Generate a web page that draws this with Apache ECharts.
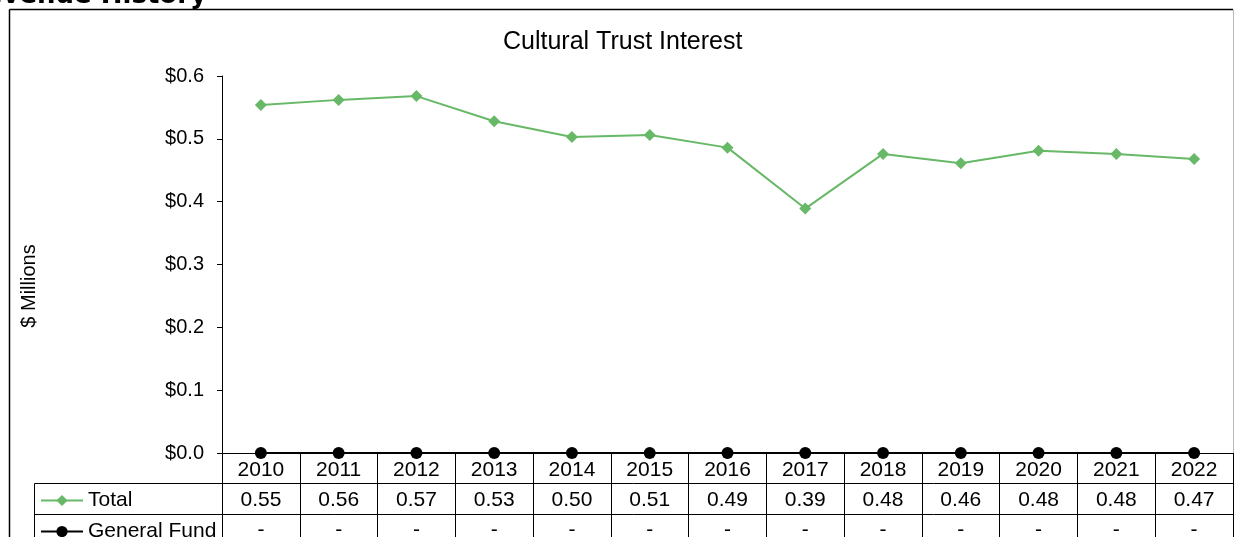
<!DOCTYPE html>
<html>
<head>
<meta charset="utf-8">
<script src="https://cdn.jsdelivr.net/npm/echarts@6/dist/echarts.min.js"></script>
<style>
html,body{margin:0;padding:0;background:#fff;}
#chart{width:1235px;height:537px;}
</style>
</head>
<body>
<div id="chart"></div>
<script>
const years = ['2010','2011','2012','2013','2014','2015','2016','2017','2018','2019','2020','2021','2022'];
const total = [0.554, 0.562, 0.568, 0.528, 0.503, 0.506, 0.486, 0.389, 0.476, 0.461, 0.481, 0.476, 0.468];
const generalFund = [0, 0, 0, 0, 0, 0, 0, 0, 0, 0, 0, 0, 0];
const yTicks = [0, 0.1, 0.2, 0.3, 0.4, 0.5, 0.6];

const FONT = '"Liberation Sans", Arial, sans-serif';
const GREEN = '#67b867';
const FS = 21;

const chart = echarts.init(document.getElementById('chart'), null, {renderer: 'canvas'});

function fmtTable(v) {
  return v === 0 ? '-' : v.toFixed(2);
}

const legendBase = {
  orient: 'horizontal',
  left: 40,
  padding: 0,
  itemWidth: 42,
  itemHeight: 14,
  textStyle: {fontFamily: FONT, fontSize: FS, color: '#000'}
};

const option = {
  animation: false,
  textStyle: {fontFamily: FONT, color: '#000'},
  title: {
    text: 'Cultural Trust Interest',
    left: 498,
    top: 25,
    textStyle: {fontFamily: FONT, fontSize: 25, fontWeight: 'normal', color: '#000'}
  },
  legend: [
    Object.assign({}, legendBase, {top: 490, data: ['Total']}),
    Object.assign({}, legendBase, {top: 521, data: ['General Fund']})
  ],
  grid: {left: 222, right: 2, top: 76, bottom: 84, containLabel: false, outerBoundsMode: 'none'},
  xAxis: [
    {
      type: 'category', data: years, position: 'bottom', boundaryGap: true,
      axisLine: {show: true, lineStyle: {color: '#000', width: 1}},
      axisTick: {show: true, length: 100, interval: 0, lineStyle: {color: '#000', width: 1}},
      axisLabel: {fontFamily: FONT, fontSize: FS, color: '#000', margin: 7, interval: 0},
      splitLine: {show: false}
    },
    {
      type: 'category', data: years, position: 'bottom', offset: 30, boundaryGap: true,
      axisLine: {show: false}, axisTick: {show: false},
      axisLabel: {fontFamily: FONT, fontSize: FS, color: '#000', margin: 7, interval: 0,
        formatter: (v, i) => fmtTable(total[i])}
    },
    {
      type: 'category', data: years, position: 'bottom', offset: 60, boundaryGap: true,
      axisLine: {show: false}, axisTick: {show: false},
      axisLabel: {fontFamily: FONT, fontSize: FS, color: '#000', margin: 7, interval: 0,
        formatter: (v, i) => fmtTable(generalFund[i])}
    }
  ],
  yAxis: {
    type: 'value', min: 0, max: 0.6, interval: 0.1,
    axisLine: {show: true, lineStyle: {color: '#000', width: 1}},
    axisTick: {show: true, length: 5, lineStyle: {color: '#000'}},
    axisLabel: {fontFamily: FONT, fontSize: 20, color: '#000', margin: 18,
      formatter: v => '$' + v.toFixed(1)},
    splitLine: {show: false}
  },
  series: [
    {
      name: 'Total', type: 'line', data: total, xAxisIndex: 0,
      symbol: 'diamond', symbolSize: 12, showSymbol: true,
      lineStyle: {color: GREEN, width: 2}, itemStyle: {color: GREEN}
    },
    {
      name: 'General Fund', type: 'line', data: generalFund, xAxisIndex: 0,
      symbol: 'circle', symbolSize: 12, showSymbol: true,
      lineStyle: {color: '#000', width: 2}, itemStyle: {color: '#000'}, z: 5
    }
  ],
  graphic: [
    {type: 'text', x: 207, y: 9, style: {text: 'Revenue History', font: 'bold 26px "DejaVu Sans", sans-serif', fill: '#000', align: 'right', verticalAlign: 'bottom'}},
    {type: 'text', x: 29, y: 286, rotation: Math.PI / 2, style: {text: '$ Millions', font: '20px ' + FONT, fill: '#000', align: 'center', verticalAlign: 'middle'}},
    {type: 'line', shape: {x1: 9.5, y1: 9.5, x2: 1233, y2: 9.5}, style: {stroke: '#000', lineWidth: 1.5}},
    {type: 'line', shape: {x1: 9.5, y1: 9.5, x2: 9.5, y2: 537}, style: {stroke: '#000', lineWidth: 1.5}},
    {type: 'line', shape: {x1: 1233.5, y1: 9.5, x2: 1233.5, y2: 537}, style: {stroke: '#bbb', lineWidth: 1}},
    {type: 'line', shape: {x1: 34.5, y1: 483.5, x2: 1233, y2: 483.5}, style: {stroke: '#000', lineWidth: 1}},
    {type: 'line', shape: {x1: 34.5, y1: 514.5, x2: 1233, y2: 514.5}, style: {stroke: '#000', lineWidth: 1}},
    {type: 'line', shape: {x1: 34.5, y1: 483.5, x2: 34.5, y2: 537}, style: {stroke: '#000', lineWidth: 1}}
  ]
};
chart.setOption(option);
</script>
</body>
</html>
